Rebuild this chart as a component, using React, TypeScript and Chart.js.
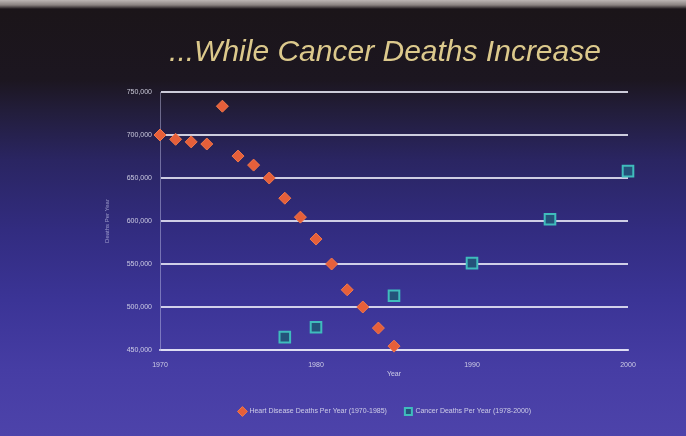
import React, { useEffect, useRef } from "react";
import { Chart, registerables } from "chart.js";

Chart.register(...registerables);

const titleText = "...While Cancer Deaths Increase";
const heartLabel = "Heart Disease Deaths Per Year (1970-1985)";
const cancerLabel = "Cancer Deaths Per Year (1978-2000)";
const xAxisTitle = "Year";
const yAxisTitle = "Deaths Per Year";

const heartYears = [1970, 1971, 1972, 1973, 1974, 1975, 1976, 1977, 1978, 1979, 1980, 1981, 1982, 1983, 1984, 1985];
const heartValues = [700000, 695000, 692000, 689500, 733500, 675500, 665000, 650000, 626500, 604500, 579000, 550000, 520000, 500000, 475500, 454500];

const cancerYears = [1978, 1980, 1985, 1990, 1995, 2000];
const cancerValues = [465000, 476500, 513000, 551000, 602000, 658000];

const xMin = 1970;
const xMax = 2000;
const xStep = 10;
const yMin = 450000;
const yMax = 750000;
const yStep = 50000;

export default function App() {
  const ref = useRef<HTMLCanvasElement | null>(null);

  useEffect(() => {
    document.body.style.margin = "0";
    const canvas = ref.current;
    if (!canvas) return;
    const chart = new Chart(canvas, {
      type: "scatter",
      data: {
        datasets: [
          {
            label: heartLabel,
            data: heartYears.map((x, i) => ({ x, y: heartValues[i] })),
            pointStyle: "rectRot",
            pointRadius: 6,
            pointBackgroundColor: "#e65f3a",
            pointBorderColor: "#f2784a",
            pointBorderWidth: 1,
            backgroundColor: "#e65f3a",
            borderColor: "#f2784a",
            clip: false,
          },
          {
            label: cancerLabel,
            data: cancerYears.map((x, i) => ({ x, y: cancerValues[i] })),
            pointStyle: "rect",
            pointRadius: 7.5,
            pointBackgroundColor: "#24527a",
            pointBorderColor: "#3fbcbc",
            pointBorderWidth: 2,
            backgroundColor: "#24527a",
            borderColor: "#3fbcbc",
            clip: false,
          },
        ],
      },
      options: {
        animation: false,
        responsive: false,
        maintainAspectRatio: false,
        layout: { padding: { left: 100, right: 16, top: 0, bottom: 11 } },
        plugins: {
          title: {
            display: true,
            text: titleText,
            color: "#dcc98c",
            font: { family: "Liberation Sans", size: 30, style: "italic", weight: "normal" },
            padding: { top: 35, bottom: 21 },
          },
          legend: {
            position: "bottom",
            labels: {
              usePointStyle: true,
              color: "rgba(225,225,240,0.85)",
              font: { family: "Liberation Sans", size: 7 },
              boxWidth: 7,
              boxHeight: 7,
              padding: 18,
            },
          },
          tooltip: { enabled: false },
        },
        scales: {
          x: {
            type: "linear",
            min: xMin,
            max: xMax,
            afterFit: (s: any) => {
              s.height = 40;
            },
            ticks: {
              stepSize: xStep,
              color: "rgba(225,225,240,0.85)",
              font: { family: "Liberation Sans", size: 7 },
              padding: 11,
              callback: (v: any) => String(v),
            },
            grid: { display: false, drawTicks: false },
            border: { display: true, color: "rgba(225,225,245,0.8)", width: 2 },
            title: {
              display: true,
              text: xAxisTitle,
              color: "rgba(225,225,240,0.85)",
              font: { family: "Liberation Sans", size: 7 },
              padding: { top: 0, bottom: 12 },
            },
          },
          y: {
            min: yMin,
            max: yMax,
            afterFit: (s: any) => {
              s.width = 60;
            },
            ticks: {
              stepSize: yStep,
              color: "rgba(225,225,240,0.85)",
              font: { family: "Liberation Sans", size: 7 },
              padding: 8,
              callback: (v: any) => Number(v).toLocaleString("en-US"),
            },
            grid: {
              color: "rgba(235,235,248,0.85)",
              lineWidth: 2,
              drawTicks: false,
            },
            border: { display: true, color: "rgba(200,200,235,0.45)", width: 1 },
            title: {
              display: true,
              text: yAxisTitle,
              color: "rgba(200,200,235,0.7)",
              font: { family: "Liberation Sans", size: 6 },
              padding: { bottom: 0 },
            },
          },
          yRight: {
            type: "linear",
            position: "right",
            display: true,
            min: yMin,
            max: yMax,
            afterFit: (s: any) => {
              s.width = 42;
            },
            ticks: { display: false },
            grid: { display: false, drawTicks: false },
            border: { display: false },
          },
        },
      },
    });
    return () => chart.destroy();
  }, []);

  return (
    <div
      style={{
        position: "relative",
        width: 686,
        height: 436,
        background:
          "linear-gradient(to bottom, #bdb6b4 0px, #8a8280 5px, #1b1519 9px, #1c1620 80px, #221d3a 110px, #2a2562 160px, #322c80 230px, #3b3496 300px, #463dA4 370px, #4d43aa 436px)",
      }}
    >
      <canvas ref={ref} width={686} height={436} style={{ display: "block" }} />
    </div>
  );
}
